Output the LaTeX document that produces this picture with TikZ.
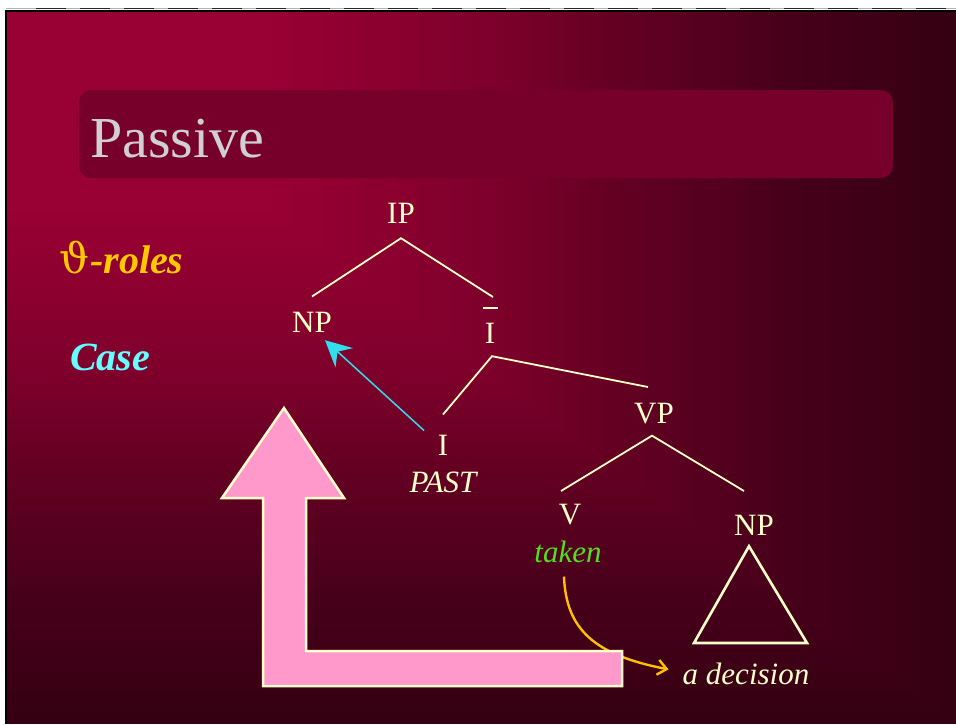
\documentclass[tikz,border=0pt]{standalone}
\usepackage{fontspec}
\setmainfont{Liberation Serif}
\newfontfamily\thetafont{DejaVu Serif}
\usetikzlibrary{arrows.meta}

\definecolor{cream}{HTML}{FFFFCC}
\definecolor{bgA}{HTML}{990033}
\definecolor{bgB}{HTML}{80002C}
\definecolor{bgC}{HTML}{620022}
\definecolor{bgD}{HTML}{48001A}
\definecolor{bgE}{HTML}{350012}
\definecolor{titlebox}{HTML}{77002A}
\definecolor{titletext}{HTML}{D0D0D0}
\definecolor{thetacol}{HTML}{FFC800}
\definecolor{casecol}{HTML}{66FFFF}
\definecolor{casearrow}{HTML}{33DDEE}
\definecolor{greenverb}{HTML}{55DD22}
\definecolor{goldline}{HTML}{FFC000}
\definecolor{pinkfill}{HTML}{FF99CC}

\begin{document}
\begin{tikzpicture}[x=1pt,y=-1pt,
  lbl/.style={text=cream,inner sep=0pt,anchor=base,font=\fontsize{31}{37}\selectfont},
  itl/.style={lbl,font=\fontsize{31}{37}\selectfont\itshape},
  branch/.style={draw=cream,line width=1.8pt},
  side/.style={inner sep=0pt,anchor=base west,font=\fontsize{40}{46}\selectfont\bfseries\itshape},
]
\useasboundingbox (0,0) rectangle (956,724);
\fill[white] (0,0) rectangle (956,724);

% slide background: corner gradient from the top left, built from nested rectangles
\foreach \sa/\sb/\ca/\cb in {1.00/0.82/bgE/bgD, 0.82/0.66/bgD/bgC, 0.66/0.50/bgC/bgB, 0.50/0.28/bgB/bgA}{
  \foreach \k in {0,...,19}{
    \pgfmathsetmacro\s{\sa-(\sa-\sb)*\k/20}
    \pgfmathsetmacro\p{100*\k/20}
    \fill[fill=\cb!\p!\ca] (6,10) rectangle ({6+950*\s},{10+714*\s});
  }
}
\fill[bgA] (6,10) rectangle ({6+950*0.28},{10+714*0.28});

% frame edges
\draw[gray!60,line width=1.2pt] (6,8.6) -- (956,8.6);
\draw[black!85,line width=1.2pt,dash pattern=on 30pt off 14pt] (36,8.6) -- (956,8.6);
\draw[black,line width=2pt] (6,724) -- (6,10.5) -- (956,10.5);

% title bar
\fill[titlebox,rounded corners=12pt] (79,90) rectangle (893,178);
\node[inner sep=0pt,anchor=base west,text=titletext,font=\fontsize{58}{64}\selectfont] (title) at (90,157) {Passive};

% side labels
\node[side,text=thetacol] (theta) at (59,273) {{\thetafont\mdseries\upshape\fontsize{42}{46}\selectfont ϑ}\kern1pt-roles};
\node[side,text=casecol] (case) at (70,370) {Case};

% tree labels
\node[lbl] (IP) at (401,223) {IP};
\node[lbl] (NP) at (312,332) {NP};
\node[lbl] (Ibar) at (490,343) {\ooalign{\hfil\raisebox{34pt}{\rule{15pt}{1.8pt}}\hfil\cr\hfil I\hfil}};
\node[lbl] (Inode) at (443,455) {I};
\node[itl] (past) at (443,492) {PAST};
\node[lbl] (VP) at (654,423) {VP};
\node[lbl] (V) at (570,524) {V};
\node[itl,text=greenverb] (taken) at (568,562) {taken};
\node[lbl] (NPobj) at (754,535) {NP};
\node[itl] (adec) at (746,684) {a decision};

% branches
\draw[branch] ([yshift=15pt]NP.north) -- ([yshift=-15pt]IP.south) -- ([xshift=3pt,yshift=10pt]Ibar.north);
\draw[branch] ([yshift=20pt]Inode.north) -- ([xshift=2pt,yshift=-13pt]Ibar.south) -- ([xshift=-6pt,yshift=15.5pt]VP.north);
\draw[branch] ([xshift=-9pt,yshift=12.5pt]V.north) -- ([xshift=-2pt,yshift=-12pt]VP.south) -- ([xshift=-10pt,yshift=23.5pt]NPobj.north);

% triangle under the object NP
\draw[cream,line width=2.6pt,line join=miter] ([xshift=-5pt,yshift=-11pt]NPobj.south) -- (807,643) -- (694,643) -- cycle;

% Case assignment arrow
\draw[casearrow,line width=1.5pt,-{Stealth[length=26pt,width=26pt,inset=9pt]}]
  ([xshift=-19pt,yshift=4pt]Inode.north) -- ([xshift=13pt,yshift=-8pt]NP.south);

% theta-role assignment curve
\draw[goldline,line width=2.4pt,-{Straight Barb[length=9pt,width=15pt]}]
  ([xshift=-4pt,yshift=-14pt]taken.south) .. controls (566,630) and (595,655) .. ([xshift=-14pt,yshift=4pt]adec.west);

% big movement arrow
\draw[cream,fill=pinkfill,line width=2.5pt,line join=miter]
  (284,408) -- (344,498) -- (306,498) -- (306,651) -- (622,651) -- (622,686)
  -- (263,686) -- (263,498) -- (222,498) -- cycle;
\end{tikzpicture}
\end{document}
